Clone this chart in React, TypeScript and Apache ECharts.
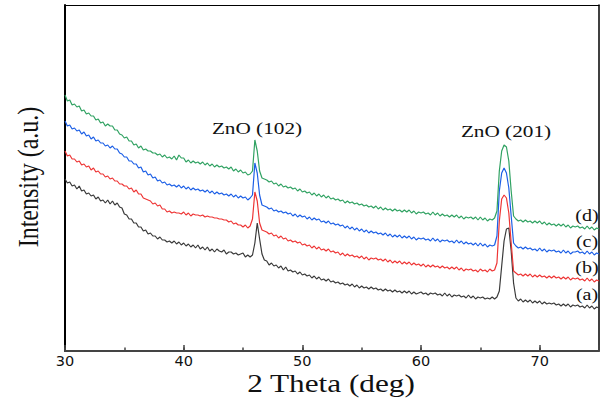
import React, { useEffect, useRef } from "react";
import * as echarts from "echarts";

// Diffraction scans sampled every 0.2 degrees from 30 to 75 (2 theta), intensity in a.u.
const TWO_THETA_START = 30;
const TWO_THETA_STEP = 0.2;

const scanA = [
  172, 168, 169, 165, 166, 162, 165, 160, 161, 157,
  158, 155, 156, 152, 154, 150, 151, 148, 151, 147,
  150, 146, 148, 144, 143, 137, 136, 132, 132, 128,
  128, 124, 124, 120, 121, 117, 118, 115, 115, 112,
  114, 111, 111, 109, 110, 108, 110, 107, 109, 106,
  108, 105, 107, 104, 106, 103, 106, 102, 104, 101,
  104, 100, 102, 99, 102, 100, 99, 101, 97, 99,
  99, 97, 98, 96, 97, 98, 94, 96, 94, 96,
  108, 128, 112, 97, 91, 90, 86, 88, 85, 86,
  83, 85, 81, 84, 80, 81, 79, 80, 77, 79,
  76, 77, 75, 76, 73, 75, 72, 74, 71, 72,
  70, 72, 69, 70, 68, 69, 67, 68, 66, 67,
  65, 67, 64, 66, 63, 65, 63, 64, 62, 64,
  62, 63, 61, 62, 60, 62, 60, 61, 59, 61,
  59, 60, 58, 60, 58, 60, 57, 59, 57, 58,
  59, 57, 58, 56, 58, 57, 58, 56, 57, 55,
  58, 55, 57, 54, 56, 55, 56, 54, 55, 53,
  56, 53, 55, 52, 54, 53, 54, 52, 53, 52,
  54, 52, 54, 60, 85, 110, 122, 123, 100, 68,
  53, 50, 52, 49, 51, 49, 51, 48, 50, 48,
  50, 47, 49, 47, 48, 47, 48, 46, 47, 45,
  47, 45, 47, 44, 46, 45, 46, 44, 45, 43,
  46, 43, 45, 42, 44, 43,
];

const scanB = [
  200, 195, 196, 192, 192, 189, 190, 186, 187, 184,
  185, 181, 183, 179, 180, 177, 177, 174, 175, 172,
  173, 170, 170, 167, 167, 165, 165, 162, 163, 159,
  161, 157, 157, 153, 152, 151, 150, 147, 148, 145,
  146, 142, 142, 139, 140, 138, 139, 138, 138, 137,
  139, 136, 138, 135, 137, 136, 136, 135, 136, 134,
  135, 134, 134, 133, 133, 132, 132, 131, 131, 129,
  130, 127, 128, 126, 126, 124, 126, 123, 125, 132,
  159, 150, 128, 121, 120, 119, 117, 118, 115, 116,
  113, 115, 112, 113, 110, 111, 109, 110, 108, 109,
  106, 107, 105, 106, 103, 105, 102, 104, 101, 102,
  100, 102, 99, 100, 98, 99, 96, 98, 95, 97,
  95, 96, 94, 95, 93, 95, 92, 94, 91, 93,
  92, 93, 91, 92, 90, 92, 89, 91, 88, 90,
  88, 90, 87, 89, 87, 89, 86, 88, 86, 87,
  85, 87, 84, 86, 84, 86, 84, 85, 83, 85,
  83, 84, 82, 84, 82, 84, 81, 83, 80, 82,
  81, 82, 80, 81, 79, 82, 80, 81, 79, 82,
  80, 81, 88, 130, 152, 156, 153, 138, 108, 80,
  78, 76, 77, 75, 77, 75, 77, 74, 76, 74,
  76, 74, 75, 73, 75, 73, 75, 73, 74, 72,
  74, 72, 74, 71, 73, 72, 73, 71, 72, 70,
  73, 70, 72, 69, 71, 70,
];

const scanC = [
  230, 225, 226, 222, 223, 220, 221, 217, 219, 215,
  216, 212, 214, 210, 211, 208, 208, 205, 206, 203,
  205, 202, 202, 198, 197, 194, 194, 190, 190, 187,
  187, 183, 184, 179, 180, 176, 177, 173, 174, 170,
  171, 168, 169, 166, 167, 165, 166, 164, 166, 163,
  165, 162, 164, 161, 163, 161, 162, 160, 161, 159,
  161, 158, 160, 157, 159, 157, 158, 156, 157, 155,
  157, 154, 156, 153, 155, 153, 154, 151, 153, 156,
  188, 178, 156, 146, 145, 144, 142, 143, 140, 141,
  139, 140, 138, 139, 137, 138, 135, 137, 134, 136,
  134, 135, 132, 134, 131, 133, 131, 132, 129, 130,
  128, 130, 127, 128, 126, 127, 125, 126, 123, 125,
  122, 124, 121, 123, 120, 122, 119, 121, 118, 120,
  118, 119, 117, 118, 116, 118, 115, 117, 114, 116,
  114, 116, 113, 115, 113, 115, 112, 114, 111, 113,
  112, 113, 111, 112, 110, 113, 110, 112, 109, 111,
  110, 111, 109, 110, 108, 111, 108, 110, 107, 109,
  107, 108, 106, 108, 105, 108, 105, 107, 104, 106,
  105, 106, 115, 160, 178, 183, 178, 163, 135, 108,
  105, 103, 104, 102, 104, 102, 103, 101, 102, 100,
  103, 100, 102, 99, 101, 100, 101, 99, 100, 98,
  101, 98, 100, 97, 99, 99, 100, 98, 99, 97,
  100, 97, 99, 96, 98, 97,
];

const scanD = [
  256, 250, 251, 246, 247, 244, 245, 240, 241, 237,
  238, 235, 235, 231, 232, 228, 229, 225, 227, 225,
  225, 221, 221, 217, 216, 213, 214, 210, 210, 206,
  207, 203, 205, 201, 202, 200, 200, 198, 198, 196,
  197, 194, 196, 193, 194, 192, 195, 191, 196, 193,
  193, 189, 191, 188, 190, 188, 189, 187, 189, 186,
  188, 185, 187, 184, 186, 184, 185, 183, 184, 182,
  184, 180, 182, 179, 181, 178, 179, 176, 177, 180,
  211, 200, 180, 173, 172, 171, 169, 170, 167, 168,
  165, 167, 164, 165, 163, 164, 162, 163, 160, 162,
  159, 160, 158, 159, 156, 158, 155, 157, 154, 156,
  153, 155, 152, 153, 151, 152, 150, 151, 148, 150,
  148, 149, 147, 148, 146, 147, 145, 146, 144, 145,
  143, 145, 142, 144, 141, 143, 141, 142, 140, 142,
  140, 141, 139, 141, 139, 141, 138, 140, 137, 139,
  138, 139, 137, 138, 136, 139, 136, 138, 135, 137,
  135, 136, 134, 136, 134, 136, 133, 135, 132, 134,
  133, 134, 132, 134, 131, 134, 131, 133, 130, 132,
  131, 133, 140, 180, 200, 206, 204, 190, 160, 135,
  132, 130, 131, 129, 131, 129, 130, 128, 130, 128,
  130, 127, 129, 126, 128, 126, 127, 125, 127, 125,
  127, 124, 126, 123, 125, 124, 125, 123, 124, 122,
  125, 122, 124, 121, 123, 122,
];

const SAMPLE_LABELS = ["(a)", "(b)", "(c)", "(d)"];
const SAMPLE_COLORS = ["#3a3a3a", "#ee3535", "#1c5fe6", "#30a262"];
const X_TICK_LABELS = [30, 40, 50, 60, 70];
const PEAK_LABELS = ["ZnO (102)", "ZnO (201)"];

const toPairs = (values: number[]) =>
  values.map((v, i) => [
    Math.round((TWO_THETA_START + i * TWO_THETA_STEP) * 10) / 10,
    v,
  ]);

const SERIF = "Liberation Serif";

export default function App() {
  const ref = useRef<HTMLDivElement>(null);

  useEffect(() => {
    if (!ref.current) return;
    const chart = echarts.init(ref.current, undefined, { renderer: "svg" });
    const scans = [scanA, scanB, scanC, scanD];
    const stretch = 1.25;

    const textStyle = (text: string, size: number) => ({
      text,
      fontFamily: SERIF,
      fontSize: size,
      fill: "#111",
      align: "center",
      verticalAlign: "middle",
    });

    const sampleTags = [
      { text: SAMPLE_LABELS[3], x: 587, y: 216 },
      { text: SAMPLE_LABELS[2], x: 587, y: 242 },
      { text: SAMPLE_LABELS[1], x: 587, y: 268 },
      { text: SAMPLE_LABELS[0], x: 587, y: 295 },
    ];

    chart.setOption({
      animation: false,
      backgroundColor: "#ffffff",
      grid: { left: 65, right: 1, top: 5, bottom: 61, containLabel: false },
      xAxis: [
        {
          type: "value",
          min: 30,
          max: 75,
          interval: 10,
          position: "bottom",
          axisLine: { show: true, onZero: false, lineStyle: { color: "#444", width: 2 } },
          axisTick: { show: true, inside: true, length: 6, lineStyle: { color: "#444", width: 1.5 } },
          axisLabel: {
            color: "#111",
            fontFamily: "DejaVu Sans",
            fontSize: 14.5,
            margin: 2,
            formatter: (v: number) => (X_TICK_LABELS.includes(v) ? String(v) : ""),
          },
          splitLine: { show: false },
        },
        {
          type: "value",
          min: 30,
          max: 75,
          interval: 5,
          position: "bottom",
          axisLine: { show: false, onZero: false },
          axisTick: { show: true, inside: true, length: 3.5, lineStyle: { color: "#444", width: 1.5 } },
          axisLabel: { show: false },
          splitLine: { show: false },
        },
        {
          type: "value",
          min: 30,
          max: 75,
          position: "top",
          axisLine: { show: true, onZero: false, lineStyle: { color: "#000", width: 1.2 } },
          axisTick: { show: false },
          axisLabel: { show: false },
          splitLine: { show: false },
        },
      ],
      yAxis: [
        {
          type: "value",
          min: 0,
          max: 346,
          position: "left",
          axisLine: { show: true, onZero: false, lineStyle: { color: "#000", width: 2 } },
          axisTick: { show: false },
          axisLabel: { show: false },
          splitLine: { show: false },
        },
        {
          type: "value",
          min: 0,
          max: 346,
          position: "right",
          axisLine: { show: true, onZero: false, lineStyle: { color: "#000", width: 1.5 } },
          axisTick: { show: false },
          axisLabel: { show: false },
          splitLine: { show: false },
        },
      ],
      series: scans.map((values, k) => ({
        name: SAMPLE_LABELS[k],
        type: "line",
        xAxisIndex: 0,
        yAxisIndex: 0,
        showSymbol: false,
        symbol: "none",
        silent: true,
        lineStyle: { width: 1.2, color: SAMPLE_COLORS[k] },
        data: toPairs(values),
      })),
      graphic: [
        { type: "text", x: 257, y: 128, scaleX: stretch, style: textStyle(PEAK_LABELS[0], 17) },
        { type: "text", x: 506, y: 131, scaleX: stretch, style: textStyle(PEAK_LABELS[1], 17) },
        ...sampleTags.map((t) => ({
          type: "text",
          x: t.x,
          y: t.y,
          scaleX: stretch,
          style: textStyle(t.text, 16),
        })),
        { type: "text", x: 331, y: 384, scaleX: stretch, style: textStyle("2 Theta (deg)", 25) },
        {
          type: "text",
          x: 28,
          y: 177,
          rotation: Math.PI / 2,
          scaleY: stretch,
          style: textStyle("Intensity (a.u.)", 24),
        },
      ],
    });

    return () => chart.dispose();
  }, []);

  return (
    <div
      ref={ref}
      style={{ position: "fixed", left: 0, top: 0, width: 602, height: 412 }}
    />
  );
}
